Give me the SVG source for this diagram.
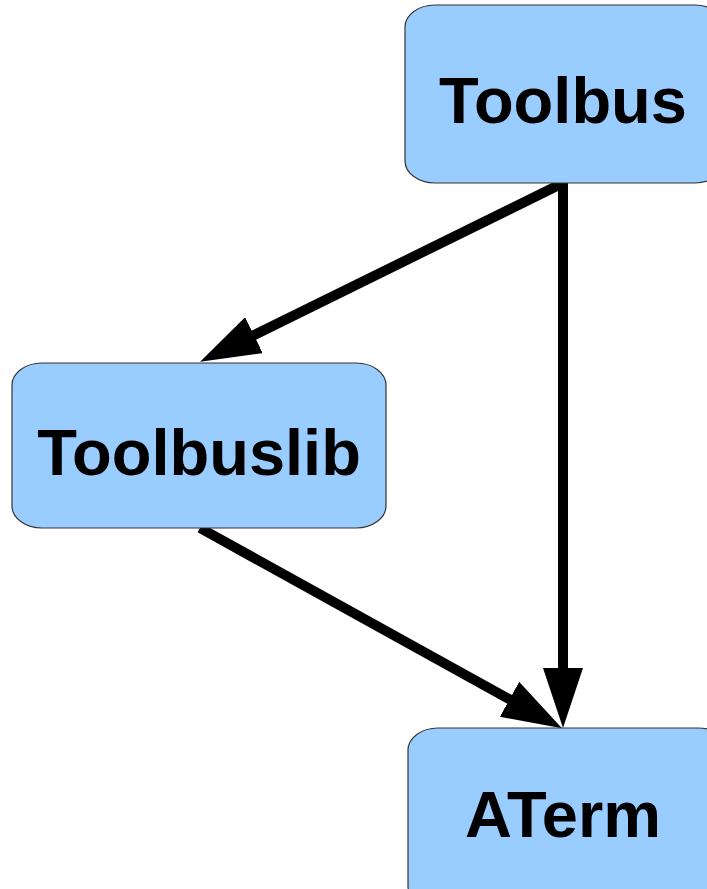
<svg xmlns="http://www.w3.org/2000/svg" width="707" height="889" viewBox="0 0 707 889">
<style>
.node rect{fill:#99ccff;stroke:#333;stroke-width:1.2}
.node text{font-family:"Liberation Sans",Arial,sans-serif;font-weight:bold;font-size:65px;fill:#000;text-anchor:middle}
.edge{stroke:#000;stroke-width:10;fill:none;marker-end:url(#ah)}
</style>
<defs>
<marker id="ah" markerUnits="userSpaceOnUse" viewBox="0 0 60 40" refX="20" refY="20" markerWidth="60" markerHeight="40" orient="auto">
<path d="M0,0 L60,20 L0,40 z" fill="#000"/>
</marker>
</defs>
<g id="connectors">
<line class="edge" x1="563" y1="183" x2="236" y2="344"/>
<line class="edge" x1="563" y1="183" x2="563" y2="688"/>
<line class="edge" x1="200" y1="528" x2="527" y2="709"/>
</g>
<g id="toolbus" class="node">
<rect x="405" y="5" width="320" height="178" rx="30" ry="22"/>
<text x="563" y="123">Toolbus</text>
</g>
<g id="toolbuslib" class="node">
<rect x="12" y="363" width="374" height="165" rx="30" ry="22"/>
<text x="199" y="475">Toolbuslib</text>
</g>
<g id="aterm" class="node">
<rect x="408" y="728" width="320" height="180" rx="30" ry="22"/>
<text x="563" y="837">ATerm</text>
</g>
</svg>
